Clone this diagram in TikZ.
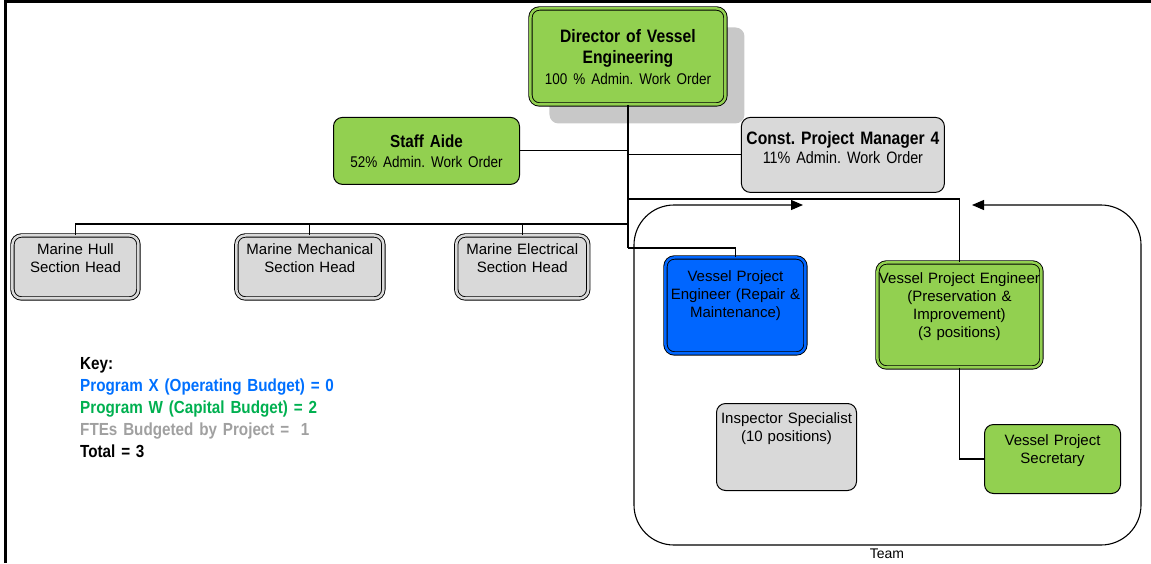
\documentclass[tikz,border=0pt]{standalone}
\usepackage{fontspec}
\setmainfont{Liberation Sans}
\newfontfamily\narrowfont[FakeStretch=0.87, WordSpace=0.87]{Liberation Sans}
\usepackage{tikz}
\usetikzlibrary{positioning, shadows, arrows.meta}

\definecolor{vgreen}{RGB}{146,208,80}
\definecolor{vgray}{RGB}{217,217,217}
\definecolor{vblue}{RGB}{0,102,255}
\definecolor{keyblue}{RGB}{0,112,255}
\definecolor{keygreen}{RGB}{0,176,80}
\definecolor{keygray}{RGB}{160,160,160}
\definecolor{shadowgray}{RGB}{200,200,200}
\frenchspacing

\begin{document}
\begin{tikzpicture}[x=1pt, y=-1pt,
    box/.style={rectangle, draw, line width=1pt, rounded corners=9pt, inner xsep=0pt, inner ysep=0pt, align=center},
    dbox/.style={box, fill=#1, double=#1, double distance=2.5pt, line width=0.9pt},
    size/.style n args={3}{text width=#1, text height=#2, text depth=#3},
    head/.style={font=\narrowfont\bfseries\fontsize{18}{21}\selectfont},
    body/.style={font=\fontsize{15}{18}\selectfont},
    keytext/.style={font=\narrowfont\bfseries\fontsize{17.5}{22}\selectfont, text width=300pt, align=left, inner sep=0pt},
    link/.style={line width=1.1pt},
    trunk/.style={line width=2pt},
    teamline/.style={line width=1.1pt, rounded corners=40pt, {Triangle[length=12pt,width=10pt]}-{Triangle[length=12pt,width=10pt]}}
]
\useasboundingbox (0,0) rectangle (1151,563);

% Page frame
\draw[line width=3pt] (5,563) -- (5,1.5) -- (1151,1.5);

% Top of the chart
\node[dbox=vgreen, head, size={195pt}{34pt}{62pt}, anchor=north west,
      drop shadow={shadow xshift=19pt, shadow yshift=-19pt, fill=shadowgray, opacity=1}]
      (dir) at (530,8) {Director of Vessel\\Engineering\\{\mdseries\fontsize{15.5}{21}\selectfont 100 \% Admin. Work Order}};
\node[box, fill=vgreen, head, font=\narrowfont\bfseries\fontsize{17.5}{20}\selectfont, size={186pt}{30pt}{37pt}, below left=12pt and 10pt of dir]
      (aide) {Staff Aide\\{\mdseries\fontsize{15.5}{20}\selectfont 52\% Admin. Work Order}};
\node[box, fill=vgray, head, font=\narrowfont\bfseries\fontsize{18}{19}\selectfont, size={203pt}{27pt}{48pt}, below right=12pt and 15pt of dir]
      (pm) {Const. Project Manager 4\\{\mdseries\fontsize{16.5}{19}\selectfont 11\% Admin. Work Order}};

% Section heads
\node[dbox=vgray, body, size={126pt}{19pt}{44pt}, anchor=north west] (hull) at (12,235) {Marine Hull\\Section Head};
\node[dbox=vgray, body, size={147pt}{19pt}{44pt}, right=97pt of hull] (mech) {Marine Mechanical\\Section Head};
\node[dbox=vgray, body, size={132pt}{19pt}{44pt}, right=72pt of mech] (elec) {Marine Electrical\\Section Head};

% Team
\node[dbox=vblue, body, size={140pt}{24pt}{72pt}, anchor=north west] (vperm) at (665,257) {Vessel Project\\Engineer (Repair \&\\Maintenance)};
\node[dbox=vgreen, body, size={164pt}{21pt}{84pt}, anchor=north west] (vpe) at (877,262) {Vessel Project Engineer\\(Preservation \&\\Improvement)\\(3 positions)};
\node[box, fill=vgray, body, size={140pt}{20pt}{67pt}, anchor=north west] (insp) at (716,403) {Inspector Specialist\\(10 positions)};
\node[box, fill=vgreen, body, size={136pt}{21pt}{48pt}, anchor=north west] (sec) at (984,424) {Vessel Project\\Secretary};

\coordinate (teamnw) at (634,205);
\coordinate (teamse) at (1141,545);
\coordinate (teamin) at (803,205);
\coordinate (teamout) at (972,205);
\draw[teamline] (teamin) -- (teamnw) -- (teamnw |- teamse) -- (teamse) -- (teamse |- teamnw) -- (teamout);
\node[font=\fontsize{14}{16}\selectfont, inner sep=0pt] (teamlabel) at (887,554) {Team};

% Key
\node[keytext, anchor=north west] (key) at (80,357) {Key:\\
  \textcolor{keyblue}{Program X (Operating Budget) = 0}\\
  \textcolor{keygreen}{Program W (Capital Budget) = 2}\\
  \textcolor{keygray}{FTEs Budgeted by Project = \ 1}\\
  Total = 3};

% Connections
\coordinate (rmbend) at ([yshift=9pt]vperm.north);
\coordinate (mbus) at ([yshift=11pt]hull.north);
\draw[trunk] (dir.south) -- (dir.south |- rmbend);
\draw[link] (dir.south |- rmbend) -| (vperm.north);
\draw[link] (aide.east) -- (aide.east -| dir.south);
\draw[link] (pm.west) -- (pm.west -| dir.south);
\draw[link] ([yshift=63pt]vpe.north -| dir.south) -| (vpe.north);
\draw[link] (hull.north) |- (mbus -| dir.south);
\draw[link] (mech.north) -- (mech.north |- mbus);
\draw[link] (elec.north) -- (elec.north |- mbus);
\draw[link] (vpe.south) |- (sec.west);

\end{tikzpicture}
\end{document}
